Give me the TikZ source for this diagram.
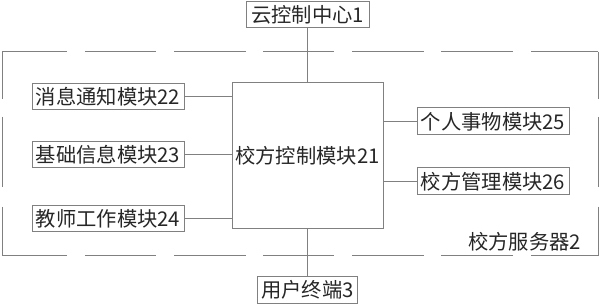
\documentclass[tikz,border=0pt]{standalone}
\usepackage{fontspec}
\setmainfont{Noto Sans CJK SC}
\begin{document}
\begin{tikzpicture}[x=1pt,y=-1pt,
  ln/.style={draw=black!50,line width=1pt},
  box/.style={ln,inner sep=0pt,minimum height=26pt,font=\fontsize{20.3}{22}\selectfont,text=black!85},
  lbl/.style={inner sep=0pt,font=\fontsize{20.3}{22}\selectfont,text=black!85}]
\useasboundingbox (0,0) rectangle (600,307);
% frame
\foreach \a/\b in {2/67,85/156,174/246,263/334,352/424,441/513,531/598}{
  \draw[ln] (\a,52) -- (\b,52);
  \draw[ln] (\a,256) -- (\b,256);
}
\foreach \a/\b in {52/99,117/187,207/256}{
  \draw[ln] (2,\a) -- (2,\b);
  \draw[ln] (598,\a) -- (598,\b);
}
\node[box,minimum width=123pt] (cloud) at (307.5,15) {云控制中心1};
\node[box,minimum width=151pt,minimum height=146pt] (ctrl) at (307.5,156) {校方控制模块21};
\node[box,minimum width=100pt] (user) at (307.5,290) {用户终端3};
\node[box,minimum width=152pt] (m22) at (108,97) {消息通知模块22};
\node[box,minimum width=152pt] (m23) at (108,155) {基础信息模块23};
\node[box,minimum width=152pt] (m24) at (108,219) {教师工作模块24};
\node[box,minimum width=152pt,minimum height=27pt] (m25) at (493,121.5) {个人事物模块25};
\node[box,minimum width=152pt,minimum height=27pt] (m26) at (493,181.5) {校方管理模块26};
\node[lbl] (srv) at (524.5,241.5) {校方服务器2};
\draw[ln] (cloud) -- (ctrl);
\draw[ln] (ctrl) -- (user);
\foreach \m in {m22,m23,m24}{\draw[ln] (\m.east) -- (\m.east -| ctrl.west);}
\foreach \m in {m25,m26}{\draw[ln] (\m.west) -- (\m.west -| ctrl.east);}
\end{tikzpicture}
\end{document}
